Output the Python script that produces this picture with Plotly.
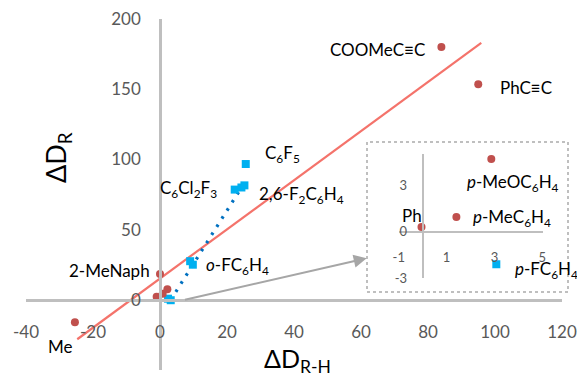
import plotly.graph_objects as go

# ---------------- data ----------------
# main plot: red series (C-substituents) and blue series (fluoro-aryls)
red_x = [84.0, 95.0, -25.4, 0.0, -1.0, 0.8, 2.2]
red_y = [180.0, 153.5, -16.0, 18.4, 2.2, 4.3, 7.5]
blue_x = [25.6, 22.3, 24.3, 25.2, 9.0, 9.8, 2.4, 3.2]
blue_y = [96.7, 78.5, 80.0, 81.5, 27.5, 25.0, 0.8, -0.3]

# linear trendlines (slope, intercept, x-extent)
red_trend_slope, red_trend_icpt = 1.751, 15.15
red_trend_x = [-24.7, 95.9]
blue_trend_slope, blue_trend_icpt = 3.79, -12.2
blue_trend_x = [3.2, 25.6]

# inset (zoom near the origin)
inset_red_x = [-0.05, 1.41, 2.87]
inset_red_y = [0.30, 0.94, 4.68]
inset_blue_x = [3.08]
inset_blue_y = [-2.10]

# axes
x_range = [-40, 120]
y_range = [-50, 200]
x_ticks = [-40, -20, 0, 20, 40, 60, 80, 100, 120]
x_tick_labels = ["-40", "-20", "0", "20", "40", "60", "80", "100", "120"]
y_ticks = [-50, 0, 50, 100, 150, 200]
y_tick_labels = ["-50", "0", "50", "100", "150", "200"]
inset_x_range = [-1, 5.05]
inset_y_range = [-3, 5]
inset_x_ticks = [-1, 1, 3, 5]
inset_x_tick_labels = ["-1", "1", "3", "5"]
inset_y_ticks = [-3, 0, 3]
inset_y_tick_labels = ["-3", "0", "3"]

# point labels: text, x, y, anchor, axis ('main' / 'inset')
labels = [
    ("COOMeC≡C", 79.7, 178.6, "right", "main"),
    ("PhC≡C", 100.9, 150.9, "left", "main"),
    ("C<sub>6</sub>F<sub>5</sub>", 30.7, 103.8, "left", "main"),
    ("C<sub>6</sub>Cl<sub>2</sub>F<sub>3</sub>", -0.6, 78.9, "left", "main"),
    ("2,6-F<sub>2</sub>C<sub>6</sub>H<sub>4</sub>", 29.0, 74.6, "left", "main"),
    ("<i>o</i>-FC<sub>6</sub>H<sub>4</sub>", 13.1, 24.1, "left", "main"),
    ("2-MeNaph", -2.4, 21.2, "right", "main"),
    ("Me", -34.0, -33.6, "left", "main"),
    ("Ph", 0.05, 1.02, "right", "inset"),
    ("<i>p</i>-MeC<sub>6</sub>H<sub>4</sub>", 2.02, 0.89, "left", "inset"),
    ("<i>p</i>-MeOC<sub>6</sub>H<sub>4</sub>", 1.77, 3.15, "left", "inset"),
    ("<i>p</i>-FC<sub>6</sub>H<sub>4</sub>", 3.77, -2.46, "left", "inset"),
]

# ---------------- layout geometry ----------------
W, H = 577, 379
L, R, T, B = 26, 15, 19, 9
PW, PH = W - L - R, H - T - B


def pxx(p):
    return (p - L) / PW


def pxy(p):
    return (T + PH - p) / PH


def frac(v, rng):
    return (v - rng[0]) / (rng[1] - rng[0])


inset_xdom = [pxx(398.8), pxx(543.4)]
inset_ydom = [pxy(278.3), pxy(154.0)]

FONT = "Lato, 'Liberation Sans', 'DejaVu Sans', sans-serif"
AXIS_GRAY = "#BFBFBF"
TICK_COLOR = "#595959"
RED = "#C0504D"
BLUE = "#00B0F0"
DARKBLUE = "#0070C0"
TREND_RED = "#F4736B"

fig = go.Figure()

# trendlines
fig.add_trace(go.Scatter(
    x=red_trend_x,
    y=[red_trend_slope * v + red_trend_icpt for v in red_trend_x],
    mode="lines", line=dict(color=TREND_RED, width=2.2),
    hoverinfo="skip", showlegend=False))
fig.add_trace(go.Scatter(
    x=blue_trend_x,
    y=[blue_trend_slope * v + blue_trend_icpt for v in blue_trend_x],
    mode="lines", line=dict(color=DARKBLUE, width=3.2, dash="2.6px,7px"),
    hoverinfo="skip", showlegend=False))

# main markers
fig.add_trace(go.Scatter(x=blue_x, y=blue_y, mode="markers",
                         marker=dict(symbol="square", size=8, color=BLUE),
                         showlegend=False))
fig.add_trace(go.Scatter(x=red_x, y=red_y, mode="markers",
                         marker=dict(symbol="circle", size=8, color=RED),
                         showlegend=False))

# inset markers
fig.add_trace(go.Scatter(x=inset_blue_x, y=inset_blue_y, mode="markers",
                         marker=dict(symbol="square", size=8, color=BLUE),
                         xaxis="x2", yaxis="y2", showlegend=False))
fig.add_trace(go.Scatter(x=inset_red_x, y=inset_red_y, mode="markers",
                         marker=dict(symbol="circle", size=8, color=RED),
                         xaxis="x2", yaxis="y2", showlegend=False,
                         cliponaxis=False))

tickfont = dict(family=FONT, size=17, color=TICK_COLOR)
inset_tickfont = dict(family=FONT, size=13, color=TICK_COLOR)

fig.update_layout(
    width=W, height=H,
    margin=dict(l=L, r=R, t=T, b=B, autoexpand=False),
    paper_bgcolor="white", plot_bgcolor="white",
    font=dict(family=FONT, color="black"),
    xaxis=dict(range=x_range, domain=[0, 1], anchor="free",
               position=frac(0, y_range), automargin=False,
               showline=True, linecolor=AXIS_GRAY, linewidth=2.5,
               showgrid=False, zeroline=False, ticks="",
               tickmode="array", tickvals=x_ticks, ticktext=x_tick_labels,
               tickfont=tickfont, ticklabelstandoff=16),
    yaxis=dict(range=y_range, domain=[0, 1], anchor="free",
               position=frac(0, x_range), automargin=False,
               showline=True, linecolor=AXIS_GRAY, linewidth=2.5,
               showgrid=False, zeroline=False, ticks="",
               tickmode="array", tickvals=y_ticks, ticktext=y_tick_labels,
               tickfont=tickfont, ticklabelstandoff=15),
    xaxis2=dict(range=inset_x_range, domain=inset_xdom, anchor="free",
                position=inset_ydom[0] + frac(0, inset_y_range) * (inset_ydom[1] - inset_ydom[0]),
                automargin=False,
                showline=True, linecolor=AXIS_GRAY, linewidth=2,
                showgrid=False, zeroline=False, ticks="",
                tickmode="array", tickvals=inset_x_ticks,
                ticktext=inset_x_tick_labels,
                tickfont=inset_tickfont, ticklabelstandoff=14),
    yaxis2=dict(range=inset_y_range, domain=inset_ydom, anchor="free",
                position=inset_xdom[0] + frac(0, inset_x_range) * (inset_xdom[1] - inset_xdom[0]),
                automargin=False,
                showline=True, linecolor=AXIS_GRAY, linewidth=2,
                showgrid=False, zeroline=False, ticks="",
                tickmode="array", tickvals=inset_y_ticks,
                ticktext=inset_y_tick_labels,
                tickfont=inset_tickfont, ticklabelstandoff=12),
)

# inset frame (dotted)
fig.add_shape(type="rect", xref="paper", yref="paper",
              x0=pxx(367), x1=pxx(568), y0=pxy(292), y1=pxy(142),
              line=dict(color=AXIS_GRAY, width=2, dash="dot"))

# arrow pointing to the inset
fig.add_annotation(x=61.7, y=29.6, ax=7.0, ay=-0.2, xref="x", yref="y",
                   axref="x", ayref="y", text="", showarrow=True,
                   arrowhead=2, arrowsize=1.3, arrowwidth=2,
                   arrowcolor="#A6A6A6", standoff=0)

# point labels
for text, lx, ly, anchor, ax_ in labels:
    xr, yr = ("x", "y") if ax_ == "main" else ("x2", "y2")
    fig.add_annotation(x=lx, y=ly, xref=xr, yref=yr, text=text,
                       showarrow=False, xanchor=anchor, yanchor="middle",
                       font=dict(family=FONT, size=17, color="black"))

# axis titles
fig.add_annotation(x=pxx(297), y=pxy(360), xref="paper", yref="paper",
                   text="ΔD<sub>R-H</sub>", showarrow=False,
                   xanchor="center", yanchor="middle",
                   font=dict(family=FONT, size=25, color="black"))
fig.add_annotation(x=pxx(57), y=pxy(158), xref="paper", yref="paper",
                   text="ΔD<sub>R</sub>", showarrow=False, textangle=-90,
                   xanchor="center", yanchor="middle",
                   font=dict(family=FONT, size=27, color="black"))

fig.write_html("out.html",
               config={"displayModeBar": False},
               post_script="document.body.style.margin='0';"
                           "document.body.style.overflow='hidden';")
